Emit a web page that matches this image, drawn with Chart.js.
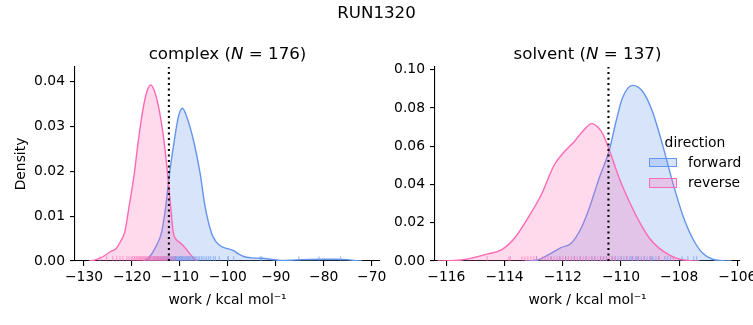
<!DOCTYPE html>
<html><head><meta charset="utf-8">
<script src="https://cdn.jsdelivr.net/npm/chart.js@4"></script>
<style>
html,body{margin:0;padding:0;background:#fff;}
#wrap{position:relative;width:753px;height:325px;overflow:hidden;font-family:'DejaVu Sans',sans-serif;color:#000;}
canvas{position:absolute;top:0;}
.t{position:absolute;white-space:nowrap;}
.big{font-size:16.67px;line-height:20px;}
.sm{font-size:13.89px;line-height:16px;}
.patch{position:absolute;box-sizing:border-box;width:27.8px;height:9.7px;border:1.4px solid;}
</style></head><body>
<div id="wrap">
 <canvas id="c1" width="390" height="325" style="left:0px"></canvas>
 <canvas id="c2" width="363" height="325" style="left:390px"></canvas>
 <div class="t big" style="left:0;width:753px;text-align:center;top:3px">RUN1320</div>
 <div class="t big" style="left:77.5px;width:300px;text-align:center;top:44px">complex (<i>N</i> = 176)</div>
 <div class="t big" style="left:437.5px;width:300px;text-align:center;top:44px">solvent (<i>N</i> = 137)</div>
 <div class="t sm" style="left:645px;width:100px;text-align:center;top:134px">direction</div>
 <div class="patch" style="left:649.3px;top:157.5px;background:rgba(100,149,237,0.25);border-color:#6495ED"></div>
 <div class="patch" style="left:649.3px;top:178px;background:rgba(255,105,180,0.25);border-color:#FF69B4"></div>
 <div class="t sm" style="left:688px;top:154px">forward</div>
 <div class="t sm" style="left:688px;top:174px">reverse</div>
</div>
<script>
// ---- data ----
const directions = ['forward', 'reverse'];

const complexFwdX = [-117.6,-116.5,-115.2,-113.8,-113.0,-112.2,-111.2,-110.3,-109.5,-108.6,-107.2,-105.8,-104.75,-103.4,-102.4,-101.3,-100.3,-99.5,-98.8,-97.8,-96.7,-95.0,-93.2,-91.2,-88.8,-86.5,-84.5,-80.0,-77.5,-75.0,-73.5,-72.0];
const complexFwdY = [0,0.0007,0.0028,0.0065,0.0118,0.0192,0.0266,0.0322,0.034,0.0322,0.027,0.0196,0.0121,0.0062,0.0042,0.0032,0.0028,0.0026,0.0023,0.0016,0.001,0.0007,0.0006,0.0004,0.0001,0.0002,0.0003,0.0004,0.0004,0.0003,0.0001,0];

const complexRevX = [-129.0,-127.8,-126.0,-124.6,-123.3,-122.3,-121.5,-120.65,-119.55,-118.7,-117.65,-116.9,-116.05,-115.3,-114.4,-113.3,-112.55,-111.9,-111.4,-110.8,-110.0,-109.3,-108.5,-107.6,-106.9,-106.3];
const complexRevY = [0,0.0002,0.001,0.002,0.0028,0.0045,0.0065,0.0118,0.0192,0.0266,0.0341,0.0377,0.0392,0.0378,0.0341,0.0266,0.0192,0.0118,0.0065,0.0048,0.0041,0.0034,0.0024,0.0012,0.0004,0];

const solventFwdX = [-113.3,-112.86,-112.52,-112.06,-111.71,-111.37,-111.09,-110.92,-110.75,-110.4,-110.17,-109.95,-109.6,-109.26,-108.92,-108.57,-108.23,-107.88,-107.54,-107.19,-106.85,-106.5,-106.2];
const solventFwdY = [0,0.0005,0.0031,0.007,0.0093,0.0171,0.0276,0.0354,0.0433,0.058,0.0729,0.0852,0.0918,0.0887,0.0782,0.0607,0.0415,0.0241,0.0119,0.004,0.0009,0.0002,0];

const solventRevX = [-116.3,-115.49,-114.92,-114.57,-114.11,-113.66,-113.2,-112.74,-112.29,-111.94,-111.6,-111.32,-111.0,-110.8,-110.63,-110.4,-110.06,-109.71,-109.37,-109.02,-108.68,-108.33,-107.99,-107.64,-107.3];
const solventRevY = [0,0.0005,0.0023,0.0037,0.0058,0.0119,0.0224,0.0346,0.0503,0.0572,0.0625,0.0677,0.0718,0.07,0.0665,0.058,0.0433,0.031,0.0206,0.0119,0.0066,0.0031,0.001,0.0002,0];

const complexRugFwd = [-116.3,-115.4,-114.8,-114.5,-114.1,-113.7,-113.5,-113.2,-112.9,-112.7,-112.4,-112.2,-111.9,-111.7,-111.5,-111.3,-111.1,-110.9,-110.8,-110.6,-110.4,-110.2,-110.1,-109.9,-109.7,-109.6,-109.4,-109.2,-109.0,-108.8,-108.6,-108.4,-108.2,-108.0,-107.8,-107.5,-107.3,-107.0,-106.8,-106.5,-106.2,-105.9,-105.5,-105.2,-104.8,-104.4,-104.0,-103.6,-103.0,-102.6,-101.8,-100.0,-99.9,-98.8,-93.2,-92.9,-85.2,-81.0,-76.5];
const complexRugRev = [-126.7,-125.3,-124.0,-123.2,-122.5,-121.9,-121.1,-120.6,-120.1,-119.8,-119.5,-119.2,-119.0,-118.7,-118.5,-118.3,-118.1,-117.9,-117.7,-117.5,-117.3,-117.1,-116.9,-116.7,-116.5,-116.3,-116.1,-115.9,-115.7,-115.5,-115.3,-115.1,-114.9,-114.7,-114.5,-114.3,-114.1,-113.9,-113.7,-113.5,-113.3,-113.1,-112.9,-112.7,-112.5,-112.3,-112.0,-111.6,-111.1];
const solventRugFwd = [-112.9,-112.4,-112.1,-111.9,-111.6,-111.4,-111.2,-111.0,-110.9,-110.7,-110.6,-110.5,-110.3,-110.2,-110.1,-110.0,-109.9,-109.8,-109.7,-109.65,-109.6,-109.5,-109.45,-109.4,-109.3,-109.2,-109.1,-109.0,-108.95,-108.9,-108.8,-108.7,-108.5,-108.4,-108.3,-107.9,-107.7,-107.5,-107.4];
const solventRugRev = [-114.6,-113.85,-113.8,-113.4,-113.3,-113.2,-113.1,-113.0,-112.9,-112.7,-112.6,-112.5,-112.4,-112.3,-112.2,-112.1,-112.0,-111.9,-111.8,-111.7,-111.6,-111.5,-111.4,-111.3,-111.2,-111.1,-111.0,-110.9,-110.8,-110.7,-110.6,-110.5,-110.4,-110.3,-110.2,-110.0,-109.8,-109.6,-109.4,-109.2,-109.0,-108.7,-108.2];

const complexMean = -112.3;
const solventMean = -110.43;

const complexXTicks = [-130,-120,-110,-100,-90,-80,-70];
const complexYTicks = [0,0.01,0.02,0.03,0.04];
const solventXTicks = [-116,-114,-112,-110,-108,-106];
const solventYTicks = [0,0.02,0.04,0.06,0.08,0.10];

const complexXRange = [-131.88, -68.27];
const complexYMax = 0.0432;
const solventXRange = [-116.39, -105.91];
const solventYMax = 0.1014;

// ---- drawing ----
const BLUE = '#6495ED', PINK = '#FF69B4';
const BLUE_FILL = 'rgba(100,149,237,0.25)', PINK_FILL = 'rgba(255,105,180,0.25)';
const BLUE_RUG = 'rgba(100,149,237,0.5)', PINK_RUG = 'rgba(255,105,180,0.5)';
const FS = 13.89;

Chart.defaults.font.family = "'DejaVu Sans', sans-serif";
Chart.defaults.font.size = FS;
Chart.defaults.color = '#000';

const pts = (xs, ys) => xs.map((x, i) => ({x: x, y: ys[i]}));
const rug = xs => xs.map(x => ({x: x, y: 0}));
const fmtX = v => String(v).replace('-', '\u2212');

function rugSet(xs, color, order) {
  return {data: rug(xs), showLine: false, pointStyle: 'line', pointRotation: 90,
    pointRadius: 4.85, pointHoverRadius: 4.85, pointBorderWidth: 1.3, pointBorderColor: color,
    borderColor: color, order: order, clip: 0};
}
function kdeSet(xs, ys, line, fill, order) {
  return {data: pts(xs, ys), borderColor: line, backgroundColor: fill, fill: 'origin',
    borderWidth: 1.4, pointRadius: 0, cubicInterpolationMode: 'monotone', order: order, clip: 0};
}

function build(id, o) {
  return new Chart(document.getElementById(id), {
    type: 'line',
    data: {datasets: [
      {data: [{x: o.mean, y: 0}, {x: o.mean, y: o.yMax}], borderColor: '#000', borderWidth: 2.1,
       borderDash: [2.1, 3.4], pointRadius: 0, fill: false, order: 0, clip: 0},
      rugSet(o.rugRev, PINK_RUG, 1),
      rugSet(o.rugFwd, BLUE_RUG, 2),
      kdeSet(o.revX, o.revY, PINK, PINK_FILL, 3),
      kdeSet(o.fwdX, o.fwdY, BLUE, BLUE_FILL, 4)
    ]},
    options: {
      responsive: false, animation: false, devicePixelRatio: 1,
      events: [],
      layout: {padding: {top: 67, right: o.padRight, left: 0, bottom: 0}},
      plugins: {legend: {display: false}, tooltip: {enabled: false}},
      scales: {
        x: {
          type: 'linear', min: o.xRange[0], max: o.xRange[1],
          afterBuildTicks: s => { s.ticks = o.xTicks.map(v => ({value: v})); },
          afterFit: s => { s.height = 64; s.paddingLeft = 0; s.paddingRight = 0; },
          grid: {drawOnChartArea: false, drawTicks: true, tickLength: 5, color: '#000', lineWidth: 1.1},
          border: {display: true, color: '#000', width: 1.1},
          ticks: {callback: v => fmtX(v), padding: 3.5, color: '#000', maxRotation: 0, autoSkip: false, font: {size: FS}},
          title: {display: true, text: 'work / kcal mol\u207B\u00B9', color: '#000', font: {size: FS}, padding: {top: 0, bottom: 16.3}}
        },
        y: {
          type: 'linear', min: 0, max: o.yMax,
          afterBuildTicks: s => { s.ticks = o.yTicks.map(v => ({value: v})); },
          afterFit: s => { s.width = o.yWidth; s.paddingTop = 0; s.paddingBottom = 0; },
          grid: {drawOnChartArea: false, drawTicks: true, tickLength: 5, color: '#000', lineWidth: 1.1},
          border: {display: true, color: '#000', width: 1.1},
          ticks: {callback: v => Number(v).toFixed(2), padding: 5, color: '#000', autoSkip: false, font: {size: FS}},
          title: {display: o.yTitle, text: 'Density', color: '#000', font: {size: FS}, padding: {top: 13.3, bottom: 0}}
        }
      }
    }
  });
}

build('c1', {fwdX: complexFwdX, fwdY: complexFwdY, revX: complexRevX, revY: complexRevY,
  rugFwd: complexRugFwd, rugRev: complexRugRev, mean: complexMean,
  xTicks: complexXTicks, yTicks: complexYTicks, xRange: complexXRange, yMax: complexYMax,
  yWidth: 75, padRight: 10, yTitle: true});
build('c2', {fwdX: solventFwdX, fwdY: solventFwdY, revX: solventRevX, revY: solventRevY,
  rugFwd: solventRugFwd, rugRev: solventRugRev, mean: solventMean,
  xTicks: solventXTicks, yTicks: solventYTicks, xRange: solventXRange, yMax: solventYMax,
  yWidth: 45, padRight: 13, yTitle: false});
</script>
</body></html>
